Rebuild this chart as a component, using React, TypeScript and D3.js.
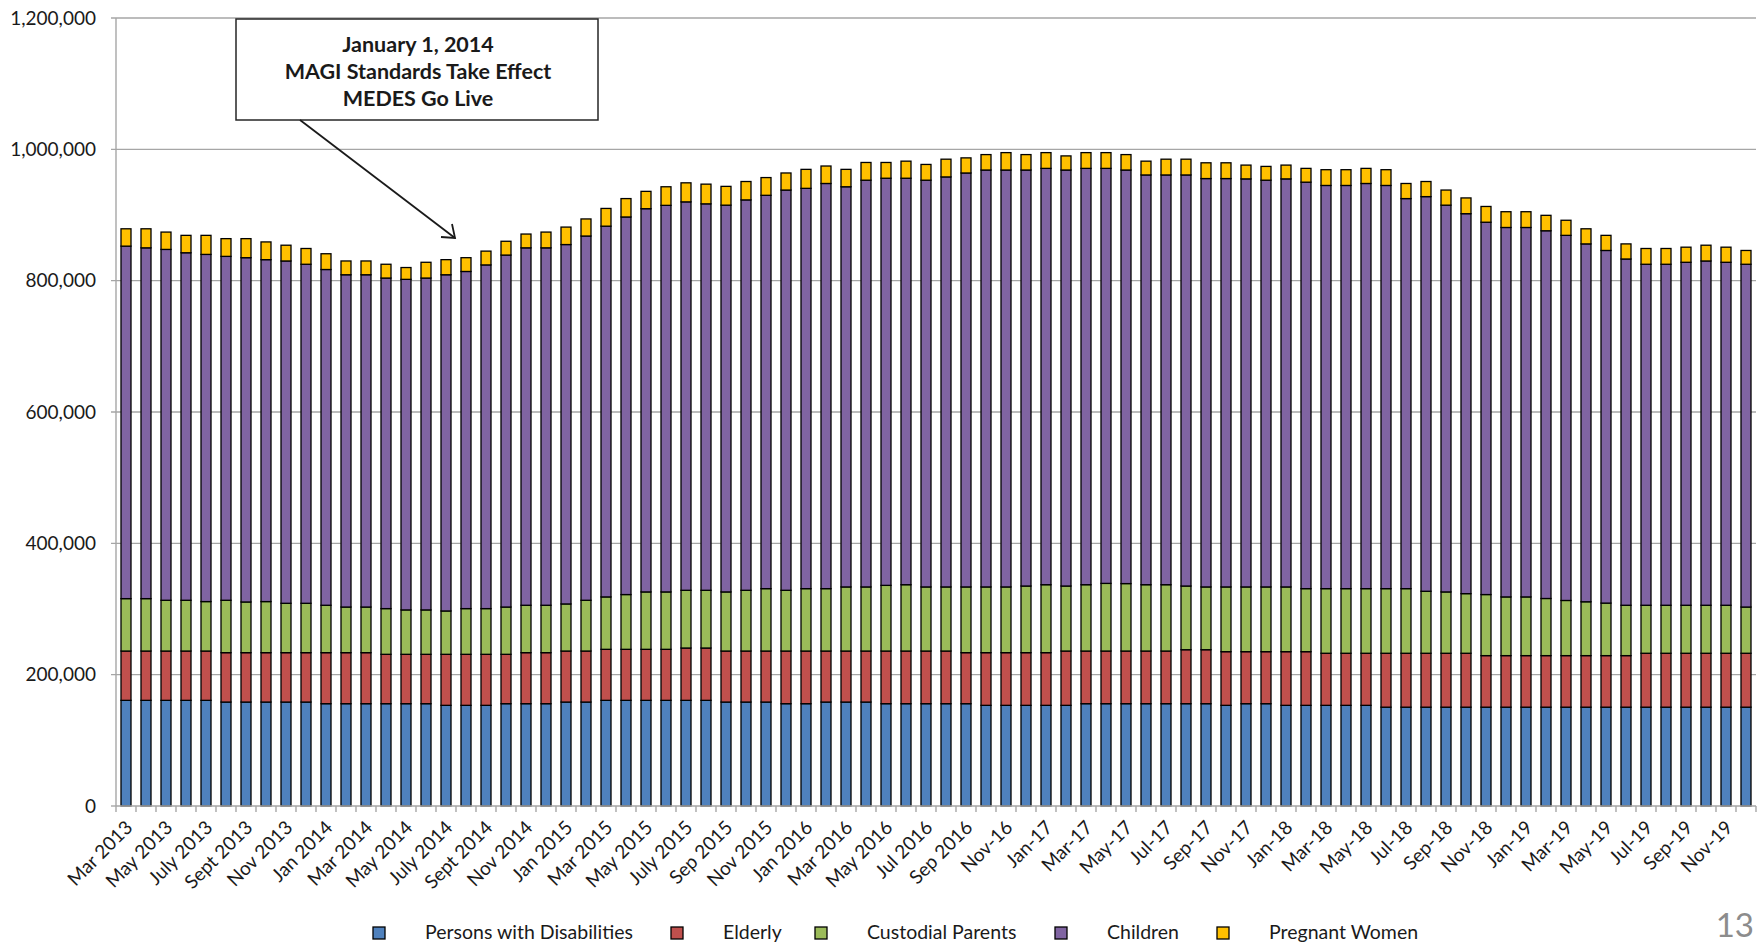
import React from 'react';
import * as d3 from 'd3';

// monthly enrollment, Mar 2013 - Dec 2019
const months = [
  'Mar 2013', 'Apr 2013', 'May 2013', 'June 2013', 'July 2013', 'Aug 2013', 'Sept 2013', 'Oct 2013', 'Nov 2013', 'Dec 2013',
  'Jan 2014', 'Feb 2014', 'Mar 2014', 'Apr 2014', 'May 2014', 'June 2014', 'July 2014', 'Aug 2014', 'Sept 2014', 'Oct 2014',
  'Nov 2014', 'Dec 2014', 'Jan 2015', 'Feb 2015', 'Mar 2015', 'Apr 2015', 'May 2015', 'June 2015', 'July 2015', 'Aug 2015',
  'Sep 2015', 'Oct 2015', 'Nov 2015', 'Dec 2015', 'Jan 2016', 'Feb 2016', 'Mar 2016', 'Apr 2016', 'May 2016', 'Jun 2016',
  'Jul 2016', 'Aug 2016', 'Sep 2016', 'Oct 2016', 'Nov-16', 'Dec-16', 'Jan-17', 'Feb-17', 'Mar-17', 'Apr-17',
  'May-17', 'Jun-17', 'Jul-17', 'Aug-17', 'Sep-17', 'Oct-17', 'Nov-17', 'Dec-17', 'Jan-18', 'Feb-18',
  'Mar-18', 'Apr-18', 'May-18', 'Jun-18', 'Jul-18', 'Aug-18', 'Sep-18', 'Oct-18', 'Nov-18', 'Dec-18',
  'Jan-19', 'Feb-19', 'Mar-19', 'Apr-19', 'May-19', 'Jun-19', 'Jul-19', 'Aug-19', 'Sep-19', 'Oct-19',
  'Nov-19', 'Dec-19',
];

const disabilities = [
  160900, 160900, 160900, 160900, 160900, 158300, 158300, 158300, 158300, 158300,
  155800, 155800, 155800, 155800, 155800, 155800, 153300, 153300, 153300, 155800,
  155800, 155800, 158300, 158300, 160900, 160900, 160900, 160900, 160900, 160900,
  158300, 158300, 158300, 155800, 155800, 158300, 158300, 158300, 155800, 155800,
  155800, 155800, 155800, 153300, 153300, 153300, 153300, 153300, 155800, 155800,
  155800, 155800, 155800, 155800, 155800, 153300, 155800, 155800, 153300, 153300,
  153300, 153300, 153300, 150500, 150500, 150500, 150500, 150500, 150500, 150500,
  150500, 150500, 150500, 150500, 150500, 150500, 150500, 150500, 150500, 150500,
  150500, 150500,
];

const elderly = [
  75100, 75100, 75100, 75100, 75100, 75200, 75200, 75200, 75200, 75200,
  77700, 77700, 77700, 75200, 75200, 75200, 77700, 77700, 77700, 75200,
  77700, 77700, 77700, 77700, 77700, 77700, 77700, 77700, 79700, 79700,
  77700, 77700, 77700, 80200, 80200, 77700, 77700, 77700, 80200, 80200,
  80200, 80200, 77700, 80200, 80200, 80200, 80200, 82700, 80200, 80200,
  80200, 80200, 80200, 82200, 82200, 81700, 79200, 79200, 81700, 81700,
  79300, 79300, 79300, 82100, 82100, 82100, 82100, 82100, 78500, 78500,
  78500, 78500, 78500, 78500, 78500, 78500, 82100, 82100, 82100, 82100,
  82100, 82100,
];

const custodialParents = [
  79800, 79800, 77300, 77300, 75300, 79800, 77200, 77800, 75200, 75200,
  72200, 69500, 69500, 69600, 67600, 67600, 66000, 69600, 69600, 72000,
  72200, 72200, 71700, 77300, 79800, 83400, 87400, 87400, 87900, 87900,
  90000, 92500, 95000, 92500, 95000, 95000, 97600, 97600, 100000, 101000,
  97600, 97600, 100100, 100100, 100100, 101500, 103500, 99000, 101000, 103000,
  102700, 101000, 101000, 97000, 95600, 98600, 98600, 98600, 98600, 96000,
  98400, 98400, 98400, 98400, 98400, 94400, 93400, 90800, 93000, 89400,
  89400, 87000, 84000, 82000, 80000, 76700, 73100, 73100, 73100, 73100,
  73100, 70400,
];

const children = [
  536800, 534200, 534300, 529200, 528700, 523700, 524300, 520700, 521300, 516300,
  511300, 506000, 506000, 503400, 503400, 505400, 512000, 513400, 523400, 536000,
  544300, 544300, 547300, 554700, 564600, 575000, 583600, 588700, 591500, 588500,
  589000, 594500, 599000, 609500, 609600, 617000, 609400, 619400, 620000, 619000,
  619400, 624400, 630400, 634900, 634900, 633500, 634000, 633500, 634000, 632000,
  629800, 624000, 624000, 626000, 621900, 621900, 621400, 619400, 621400, 619000,
  614000, 614000, 617000, 614000, 594000, 601000, 589000, 578600, 567000, 562600,
  562600, 560000, 556000, 545000, 537000, 527300, 519300, 519300, 522300, 524300,
  522300, 522000,
];

const pregnantWomen = [
  26400, 29000, 26400, 26500, 29000, 27000, 29000, 27000, 24000, 24000,
  24000, 21000, 21000, 21000, 18000, 24000, 23000, 21000, 21000, 21000,
  21000, 24000, 26600, 26000, 27000, 28000, 26400, 28300, 29000, 30000,
  28600, 28000, 27000, 26000, 28900, 26600, 26500, 27000, 24000, 26000,
  24000, 27000, 23000, 23500, 26500, 23500, 24000, 21500, 24000, 24000,
  23500, 21000, 24000, 24000, 24000, 24000, 21000, 21000, 21000, 21000,
  24000, 24000, 23000, 24000, 23000, 23000, 23000, 24000, 24000, 24000,
  24000, 23500, 23000, 23000, 23000, 23000, 24000, 24000, 23000, 24000,
  23000, 21000,
];

const seriesKeys = ['disabilities', 'elderly', 'custodial', 'children', 'pregnant'];
const seriesNames = ['Persons with Disabilities', 'Elderly', 'Custodial Parents', 'Children', 'Pregnant Women'];
const seriesColors = ['#4F81BD', '#C0504D', '#9BBB59', '#8064A2', '#FFC000'];

const yTicks = [0, 200000, 400000, 600000, 800000, 1000000, 1200000];

const annotationLines = ['January 1, 2014', 'MAGI Standards Take Effect', 'MEDES Go Live'];
const pageNumber = '13';

const W = 1763;
const H = 944;
const margin = { top: 18, right: 7, bottom: 138, left: 116 };
const FONT = 'Lato, "Open Sans", Arial, sans-serif';

// legend placement (left edge of each swatch)
const legendX = [373, 671, 815, 1055, 1217];

export default function App() {
  const rows = months.map((m, i) => ({
    month: m,
    disabilities: disabilities[i],
    elderly: elderly[i],
    custodial: custodialParents[i],
    children: children[i],
    pregnant: pregnantWomen[i],
  }));

  const stacked = d3.stack<any>().keys(seriesKeys)(rows);

  const x = d3.scaleBand()
    .domain(months)
    .range([margin.left, W - margin.right])
    .paddingInner(0.5)
    .paddingOuter(0.25);

  const y = d3.scaleLinear()
    .domain([0, 1200000])
    .range([H - margin.bottom, margin.top]);

  const fmt = d3.format(',');
  const x0 = margin.left;
  const x1 = W - margin.right;
  const yBase = y(0);
  const step = x.step();
  const offset = (step - x.bandwidth()) / 2;

  // tick marks sit between categories
  const boundaries = months.map(m => (x(m) as number) - offset).concat([x1]);

  return (
    <svg width={W} height={H} style={{ position: 'absolute', left: 0, top: 0, background: '#fff' }}
      fontFamily={FONT}>
      {/* gridlines */}
      {yTicks.filter(t => t > 0).map(t => (
        <line key={'g' + t} x1={x0 - 5} x2={x1} y1={y(t)} y2={y(t)} stroke="#A6A6A6" strokeWidth={1.4} />
      ))}
      {/* y axis */}
      <line x1={x0} x2={x0} y1={y(1200000)} y2={yBase} stroke="#A6A6A6" strokeWidth={1.4} />
      <line x1={x0 - 5} x2={x0} y1={yBase} y2={yBase} stroke="#A6A6A6" strokeWidth={1.4} />
      {yTicks.map(t => (
        <text key={'yl' + t} x={96} y={y(t)} dy="0.35em" textAnchor="end" fontSize={19} fill="#1a1a1a">
          {fmt(t)}
        </text>
      ))}

      {/* bars */}
      {stacked.map((s, si) => (
        <g key={s.key} fill={seriesColors[si]} stroke="#000" strokeWidth={1.3}>
          {s.map((d, i) => (
            <rect key={i} x={x(months[i])} y={y(d[1])} width={x.bandwidth()} height={y(d[0]) - y(d[1])} />
          ))}
        </g>
      ))}

      {/* x axis */}
      <line x1={x0} x2={x1} y1={yBase} y2={yBase} stroke="#A6A6A6" strokeWidth={1.4} />
      {boundaries.map((b, i) => (
        <line key={'t' + i} x1={b} x2={b} y1={yBase} y2={yBase + 6} stroke="#A6A6A6" strokeWidth={1.4} />
      ))}
      {months.map((m, i) => i % 2 === 0 ? (
        <text key={'xl' + i}
          transform={`translate(${(x(m) as number) + x.bandwidth() / 2 + 3},${yBase + 18}) rotate(-45)`}
          textAnchor="end" dy="0.35em" fontSize={19} fill="#1a1a1a">
          {m}
        </text>
      ) : null)}

      {/* annotation */}
      <rect x={236} y={19} width={362} height={101} fill="#fff" stroke="#262626" strokeWidth={1.5} />
      {annotationLines.map((l, i) => (
        <text key={'a' + i} x={418} y={44 + i * 27} dy="0.35em" textAnchor="middle" fontSize={21.5}
          fontWeight="bold" fill="#1a1a1a">
          {l}
        </text>
      ))}
      <line x1={300} y1={120} x2={455} y2={238} stroke="#1a1a1a" strokeWidth={1.8} />
      <polyline points="441,237 455,238 452,224" fill="none" stroke="#1a1a1a" strokeWidth={1.8} />

      {/* legend */}
      {seriesNames.map((n, i) => (
        <g key={'lg' + i}>
          <rect x={legendX[i]} y={927} width={12} height={12} fill={seriesColors[i]} stroke="#000" strokeWidth={1.3} />
          <text x={legendX[i] + 52} y={939} fontSize={19.5} fill="#1a1a1a">{n}</text>
        </g>
      ))}

      <text x={1754} y={937} textAnchor="end" fontSize={33} fill="#8c8c8c">{pageNumber}</text>
    </svg>
  );
}
